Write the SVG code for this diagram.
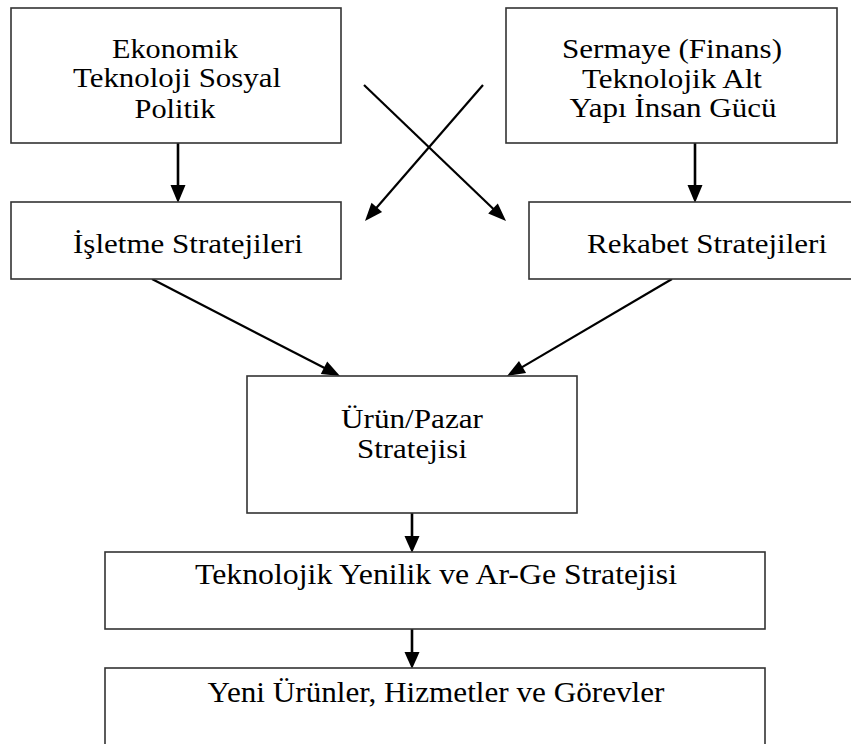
<svg xmlns="http://www.w3.org/2000/svg" width="851" height="744" viewBox="0 0 851 744">
<style>
.box{fill:#fff;stroke:#333;stroke-width:1.6}
.t{font-family:'Liberation Serif','Times New Roman',serif;fill:#000;text-anchor:middle;font-size:27px}
.b{font-size:29px}
.a{fill:none;stroke:#000;stroke-width:2.6}
.d{fill:none;stroke:#000;stroke-width:2.2}
.h{fill:#000;stroke:none}
</style>
<rect width="851" height="744" fill="#fff"/>

<g id="connectors">
<line class="a" x1="178" y1="143" x2="178" y2="188"/>
<polygon class="h" points="170.5,185 185.5,185 178,203"/>
<line class="a" x1="695" y1="143" x2="695" y2="188"/>
<polygon class="h" points="687.5,185 702.5,185 695,203"/>
<line class="d" x1="364" y1="85" x2="495" y2="210.5"/>
<polygon class="h" points="488.2,213.6 497.8,203.5 506,221"/>
<line class="d" x1="483" y1="85" x2="375" y2="209.5"/>
<polygon class="h" points="371.5,202.8 382.1,212 365,221"/>
<line class="d" x1="152" y1="279" x2="326" y2="368.8"/>
<polygon class="h" points="320.8,374 327.2,361.5 340,376"/>
<line class="d" x1="672" y1="279" x2="520" y2="368.4"/>
<polygon class="h" points="519,360.9 526.1,372.9 507,376"/>
<line class="a" x1="412" y1="513" x2="412" y2="540"/>
<polygon class="h" points="404.5,536 419.5,536 412,553"/>
<line class="a" x1="412" y1="629" x2="412" y2="656"/>
<polygon class="h" points="404.5,652 419.5,652 412,669"/>
</g>

<g id="node-cevre">
<rect class="box" x="11" y="8" width="330" height="135"/>
<text class="t" x="175" y="58" textLength="126" lengthAdjust="spacingAndGlyphs">Ekonomik</text>
<text class="t" x="177" y="87" textLength="208" lengthAdjust="spacingAndGlyphs">Teknoloji Sosyal</text>
<text class="t" x="175" y="118" textLength="81" lengthAdjust="spacingAndGlyphs">Politik</text>
</g>

<g id="node-kaynak">
<rect class="box" x="506" y="8" width="331" height="135"/>
<text class="t" x="672" y="58" textLength="220" lengthAdjust="spacingAndGlyphs">Sermaye (Finans)</text>
<text class="t" x="672" y="88" textLength="180" lengthAdjust="spacingAndGlyphs">Teknolojik Alt</text>
<text class="t" x="673" y="117" textLength="207" lengthAdjust="spacingAndGlyphs">Yapı İnsan Gücü</text>
</g>

<g id="node-isletme">
<rect class="box" x="11" y="202" width="330" height="77"/>
<text class="t" x="188" y="253" textLength="230" lengthAdjust="spacingAndGlyphs">İşletme Stratejileri</text>
</g>

<g id="node-rekabet">
<rect class="box" x="529" y="202" width="330" height="77"/>
<text class="t" x="707" y="253" textLength="240" lengthAdjust="spacingAndGlyphs">Rekabet Stratejileri</text>
</g>

<g id="node-urun">
<rect class="box" x="247" y="376" width="330" height="137"/>
<text class="t" x="412" y="428" textLength="142" lengthAdjust="spacingAndGlyphs">Ürün/Pazar</text>
<text class="t" x="412" y="458" textLength="110" lengthAdjust="spacingAndGlyphs">Stratejisi</text>
</g>

<g id="node-teknolojik">
<rect class="box" x="105" y="552" width="660" height="77"/>
<text class="t b" x="436" y="584" textLength="482" lengthAdjust="spacingAndGlyphs">Teknolojik Yenilik ve Ar-Ge Stratejisi</text>
</g>

<g id="node-yeni">
<rect class="box" x="105" y="668" width="660" height="90"/>
<text class="t b" x="436" y="702" textLength="457" lengthAdjust="spacingAndGlyphs">Yeni Ürünler, Hizmetler ve Görevler</text>
</g>
</svg>
